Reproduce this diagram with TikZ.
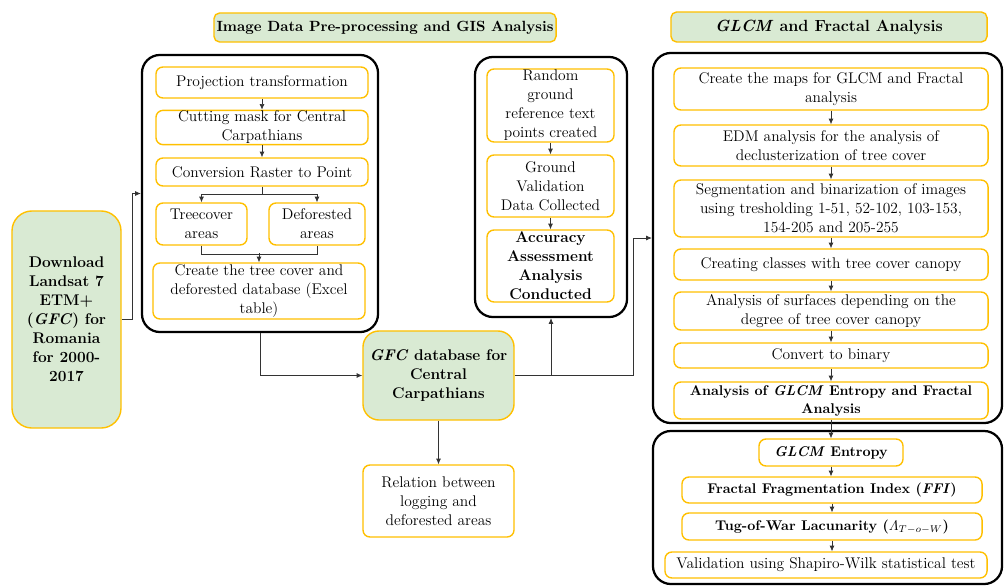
\documentclass[tikz,border=0pt]{standalone}
\usepackage{fontspec}
\usepackage{amsmath}
\usetikzlibrary{arrows.meta}
\definecolor{boxorange}{RGB}{255,192,0}
\definecolor{boxgreen}{RGB}{217,234,211}
\tikzset{
  obox/.style={draw=boxorange, line width=1pt, fill=white, rounded corners=5pt, align=center, inner sep=0.5pt},
  gbox/.style={obox, fill=boxgreen, font=\bfseries},
  bbox/.style={obox, font=\fontsize{10}{12.8}\selectfont\bfseries},
  hdr/.style={draw=boxorange, line width=1pt, fill=boxgreen, rounded corners=4pt, inner sep=1pt, font=\fontsize{10.5}{12}\selectfont\bfseries},
  panel/.style={draw=black, line width=1.6pt, rounded corners=0.45cm},
  arr/.style={-{Latex[length=4pt,width=3.5pt]}, line width=0.5pt, draw=black!80},
  wire/.style={line width=0.5pt, draw=black!80}
}
\begin{document}
\fontsize{11}{13.5}\selectfont
\begin{tikzpicture}[x=0.025cm, y=-0.025cm]
    \useasboundingbox (0,0) rectangle (1004,586);

    \node[panel, minimum width=5.9cm, minimum height=6.925cm] (pnlA) at (260,193.5) {};
    \node[panel, minimum width=3.8cm, minimum height=6.5cm] (pnlB) at (551,187) {};
    \node[panel, minimum width=8.725cm, minimum height=9.25cm] (pnlC) at (827.5,238) {};
    \node[panel, minimum width=8.725cm, minimum height=3.825cm] (pnlD) at (827.5,507.5) {};

    \node[hdr, minimum width=8.55cm, minimum height=0.725cm] (hdrA) at (385,27.5) {Image Data Pre-processing and GIS Analysis};
    \node[hdr, font=\fontsize{11.5}{13}\selectfont\bfseries, minimum width=7.9cm, minimum height=0.75cm] (hdrB) at (829,27) {\textit{GLCM} and Fractal Analysis};

    \node[gbox, rounded corners=0.5cm, minimum width=2.725cm, minimum height=5.425cm] (dl) at (66.5,319.5) {Download\\Landsat 7\\ETM+\\(\textit{GFC}) for\\Romania\\for 2000-\\2017};

    \node[obox, minimum width=5.3cm, minimum height=0.775cm] (proj) at (262,82.5) {Projection transformation};
    \node[obox, minimum width=5.3cm, minimum height=0.825cm] (cut) at (262,127.5) {Cutting mask for Central\\Carpathians};
    \node[obox, minimum width=5.3cm, minimum height=0.7cm] (conv) at (262,172) {Conversion Raster to Point};
    \node[obox, minimum width=2.275cm, minimum height=1.05cm] (treec) at (201.5,224) {Treecover\\areas};
    \node[obox, minimum width=2.4cm, minimum height=1.05cm] (defor) at (317,224) {Deforested\\areas};
    \node[obox, minimum width=5.3cm, minimum height=1.4cm] (creat) at (259,291) {Create the tree cover and\\deforested database (Excel\\table)};

    \node[gbox, rounded corners=0.4cm, minimum width=3.775cm, minimum height=2.225cm] (gfc) at (438.5,375.5) {\textit{GFC} database for\\Central\\Carpathians};
    \node[obox, minimum width=3.775cm, minimum height=1.8cm] (rel) at (438.5,501) {Relation between\\logging and\\deforested areas};

    \node[obox, minimum width=3.175cm, minimum height=1.825cm] (rnd) at (550.5,105.5) {Random\\ground\\reference text\\points created};
    \node[obox, minimum width=3.175cm, minimum height=1.55cm] (gval) at (550.5,186) {Ground\\Validation\\Data Collected};
    \node[obox, font=\bfseries, minimum width=3.175cm, minimum height=1.8cm] (acc) at (550.5,266) {Accuracy\\Assessment\\Analysis\\Conducted};

    \node[obox, minimum width=7.85cm, minimum height=1.05cm] (maps) at (831,89) {Create the maps for GLCM and Fractal\\analysis};
    \node[obox, minimum width=7.85cm, minimum height=1.025cm] (edm) at (831,145.5) {EDM analysis for the analysis of\\declusterization of tree cover};
    \node[obox, minimum width=7.85cm, minimum height=1.425cm] (seg) at (831,208.5) {Segmentation and binarization of images\\using tresholding 1-51, 52-102, 103-153,\\154-205 and 205-255};
    \node[obox, minimum width=7.85cm, minimum height=0.775cm] (cls) at (831,264.5) {Creating classes with tree cover canopy};
    \node[obox, minimum width=7.85cm, minimum height=0.95cm] (surf) at (831,311) {Analysis of surfaces depending on the\\degree of tree cover canopy};
    \node[obox, minimum width=7.85cm, minimum height=0.625cm] (bin) at (831,355.5) {Convert to binary};
    \node[bbox, minimum width=7.85cm, minimum height=0.925cm] (glcm) at (831,400.5) {Analysis of \textit{GLCM} Entropy and Fractal\\Analysis};

    \node[bbox, minimum width=3.6cm, minimum height=0.675cm] (ent) at (831,452.5) {\textit{GLCM} Entropy};
    \node[bbox, minimum width=7.5cm, minimum height=0.65cm] (ffi) at (832,490) {Fractal Fragmentation Index (\textit{FFI})};
    \node[bbox, minimum width=7.5cm, minimum height=0.675cm] (tug) at (832,526.5) {Tug-of-War Lacunarity ($\varLambda_{T-o-W}$)};
    \node[obox, minimum width=8.05cm, minimum height=0.65cm] (val) at (826,565) {Validation using Shapiro-Wilk statistical test};

    \draw[arr] (dl.east) -- ++(11,0) |- (pnlA.west);
    \draw[arr] (proj.south) -- (cut.north);
    \draw[arr] (cut.south) -- (conv.north);
    \draw[arr] (conv.south) -- ++(0,8) -| (treec.north);
    \draw[arr] (conv.south) ++(0,8) -| (defor.north);
    \draw[wire] (treec.south) -- ++(0,9) -| (defor.south);
    \draw[arr] (creat.north) ++(0,-9) -- (creat.north);
    \draw[arr] (pnlA.south) |- (gfc.west);
    \draw[arr] (gfc.east) -- ++(119,0) |- (pnlC.west);
    \draw[arr] (gfc.east -| pnlB.south) -- (pnlB.south);
    \draw[arr] (gfc.south) -- (rel.north);
    \draw[arr] (rnd.south) -- (gval.north);
    \draw[arr] (gval.south) -- (acc.north);
    \draw[arr] (maps.south) -- (edm.north);
    \draw[arr] (edm.south) -- (seg.north);
    \draw[arr] (seg.south) -- (cls.north);
    \draw[arr] (cls.south) -- (surf.north);
    \draw[arr] (surf.south) -- (bin.north);
    \draw[arr] (bin.south) -- (glcm.north);
    \draw[arr] (glcm.south) -- (ent.north);
    \draw[arr] (ent.south) -- (ent.south |- ffi.north);
    \draw[arr] (ffi.south) -- (tug.north);
    \draw[arr] (tug.south) -- (tug.south |- val.north);
\end{tikzpicture}
\end{document}
